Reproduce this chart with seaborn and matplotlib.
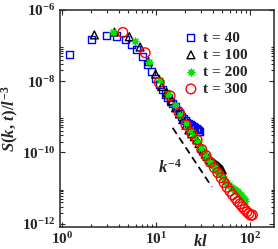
import numpy as np
import pandas as pd
import matplotlib
matplotlib.use("Agg")
import matplotlib.pyplot as plt
import seaborn as sns
from matplotlib.ticker import FixedLocator, LogFormatterSciNotation, NullFormatter

# ---- data (k*l and log10 of S(k,t)/l^-3) ----
k40 = [1.20, 2.05, 2.92, 3.79, 4.68, 5.47, 6.18, 7.16, 8.10, 8.93, 9.80, 10.7, 11.6,
       12.4, 13.3, 14.2, 15.0, 15.9, 16.8, 17.7, 18.5, 19.4, 20.3, 21.1, 22.0, 22.9,
       23.8, 24.6, 25.5, 26.4, 27.2, 28.1, 29.0]
logS40 = [-7.26, -6.82, -6.72, -6.73, -6.82, -6.97, -7.10, -7.31, -7.54, -7.73, -7.92,
          -8.10, -8.24, -8.36, -8.47, -8.57, -8.63, -8.72, -8.82, -8.92, -9.00, -9.06,
          -9.11, -9.15, -9.18, -9.21, -9.25, -9.28, -9.31, -9.34, -9.37, -9.40, -9.42]

k100 = [2.19, 3.57, 5.16, 6.71, 8.26, 9.81, 11.4, 12.9, 14.5, 16.0, 17.6, 19.1, 20.7,
        22.2, 23.8, 25.3, 26.9, 28.4, 30.0, 31.5, 33.1, 34.6, 36.2, 37.7, 39.3, 40.8,
        42.4, 43.9, 45.5, 47.0, 48.6, 50.1]
logS100 = [-6.70, -6.62, -6.75, -7.04, -7.45, -7.80, -8.15, -8.32, -8.55, -8.75, -8.92,
           -9.08, -9.24, -9.37, -9.48, -9.56, -9.65, -9.75, -9.88, -9.96, -10.05, -10.12,
           -10.18, -10.22, -10.26, -10.30, -10.33, -10.36, -10.39, -10.42, -10.46, -10.49]

k200 = [3.49, 5.93, 8.35, 10.8, 13.2, 15.6, 18.0, 20.4, 22.8, 25.3, 27.7, 30.1, 32.5,
        34.9, 37.3, 39.7, 42.2, 44.6, 47.0, 49.4, 51.8, 54.2, 56.7, 59.1, 61.5, 63.9,
        66.3, 68.7, 71.1, 73.6, 76.0, 78.4, 80.8, 83.2, 85.6, 88.0]
logS200 = [-6.61, -6.88, -7.47, -7.98, -8.37, -8.68, -8.95, -9.18, -9.38, -9.55, -9.70,
           -9.87, -10.02, -10.15, -10.26, -10.36, -10.45, -10.53, -10.62, -10.70, -10.76,
           -10.82, -10.87, -10.92, -10.96, -11.00, -11.03, -11.06, -11.09, -11.12, -11.16,
           -11.20, -11.24, -11.28, -11.32, -11.36]

k300 = [4.4, 7.6, 10.7, 14.0, 17.6, 20.6, 23.8, 27.1, 30.4, 33.7, 37.4, 41.3, 45.0,
        48.7, 52.4, 56.3, 60.5, 64.6, 69.0, 73.3, 77.5, 81.9, 86.8, 91.8, 96.4, 101.0, 105.0]
logS300 = [-6.63, -7.20, -8.04, -8.41, -8.89, -9.23, -9.47, -9.65, -9.92, -10.09, -10.28,
           -10.43, -10.57, -10.71, -10.85, -10.98, -11.09, -11.19, -11.29, -11.38, -11.45,
           -11.53, -11.60, -11.67, -11.72, -11.77, -11.76]

guide_k = [14.9, 38.9]
guide_logS = [-9.31, -10.97]

labels = ["t = 40", "t = 100", "t = 200", "t = 300"]
colors = ["#0000ff", "#000000", "#00e400", "#ff0000"]

sns.set_theme(style="ticks")
plt.rcParams.update({
    "font.family": ["Liberation Serif", "DejaVu Serif"],
    "font.weight": "bold",
    "mathtext.fontset": "custom",
    "mathtext.rm": "Liberation Serif:bold",
    "mathtext.it": "Liberation Serif:italic:bold",
    "mathtext.bf": "Liberation Serif:bold",
    "axes.linewidth": 1.1,
})

fig = plt.figure(figsize=(2.78, 2.49), dpi=100)
ax = fig.add_axes([60 / 278, 22 / 249, 214 / 278, 217 / 249])
ax.set_xscale("log")
ax.set_yscale("log")

series = [
    (k40, logS40, "s", 26, labels[0], colors[0]),
    (k100, logS100, "^", 32, labels[1], colors[1]),
    (k200, logS200, (8, 2, 0), 24, labels[2], colors[2]),
    (k300, logS300, "o", 48, labels[3], colors[3]),
]
for i, (kk, ls, mk, sz, lab, col) in enumerate(series):
    df = pd.DataFrame({"kl": kk, "S": np.power(10.0, ls)})
    if mk == (8, 2, 0):
        sns.scatterplot(data=df, x="kl", y="S", ax=ax, marker=mk, s=sz, color=col,
                        linewidth=0.9, label=lab, zorder=3 + i)
    else:
        sns.scatterplot(data=df, x="kl", y="S", ax=ax, marker=mk, s=sz,
                        facecolor="none", edgecolor=col, linewidth=1.0,
                        label=lab, zorder=3 + i)

sns.lineplot(x=guide_k, y=np.power(10.0, guide_logS), ax=ax, color="black",
             linewidth=1.3, dashes=False, zorder=2)
ax.lines[-1].set_dashes((4, 2.5))

ax.text(0.458, 0.248, r"$k^{-4}$", transform=ax.transAxes, fontsize=12,
        ha="left", va="baseline")

ax.set_xlim(0.945, 178)
ax.set_ylim(8.0e-13, 1e-6)

ax.xaxis.set_major_locator(FixedLocator([1, 10, 100]))
ax.xaxis.set_minor_locator(FixedLocator([m * 10.0 ** d for d in (0, 1) for m in range(2, 10)]))
ax.yaxis.set_major_locator(FixedLocator([1e-12, 1e-10, 1e-8, 1e-6]))
ax.yaxis.set_minor_locator(FixedLocator([m * 10.0 ** e for e in (-12, -10, -8) for m in range(2, 10)]))
ax.xaxis.set_major_formatter(LogFormatterSciNotation())
ax.yaxis.set_major_formatter(LogFormatterSciNotation())
ax.xaxis.set_minor_formatter(NullFormatter())
ax.yaxis.set_minor_formatter(NullFormatter())

ax.tick_params(which="both", direction="in", top=True, right=True, labelsize=11, width=0.8)
ax.tick_params(which="major", length=3.6, pad=3)
ax.tick_params(which="minor", length=2.2)
for lab in ax.get_xticklabels() + ax.get_yticklabels():
    lab.set_fontweight("bold")
for sp in ax.spines.values():
    sp.set_linewidth(1.1)
    sp.set_visible(True)

ax.set_xlabel(r"$kl$", fontsize=12)
ax.xaxis.set_label_coords(0.654, -0.03)
ax.set_ylabel(r"$S(k,\,t)/l^{-3}$", fontsize=12)
ax.yaxis.set_label_coords(-0.18, 0.5)

leg = ax.legend(loc="upper left", bbox_to_anchor=(0.576, 0.903), frameon=False,
                handletextpad=0.3, labelspacing=0.22, borderpad=0, handlelength=1.0,
                borderaxespad=0, prop={"family": "Liberation Serif", "weight": "bold", "size": 11})

fig.savefig("out.png", dpi=100)
